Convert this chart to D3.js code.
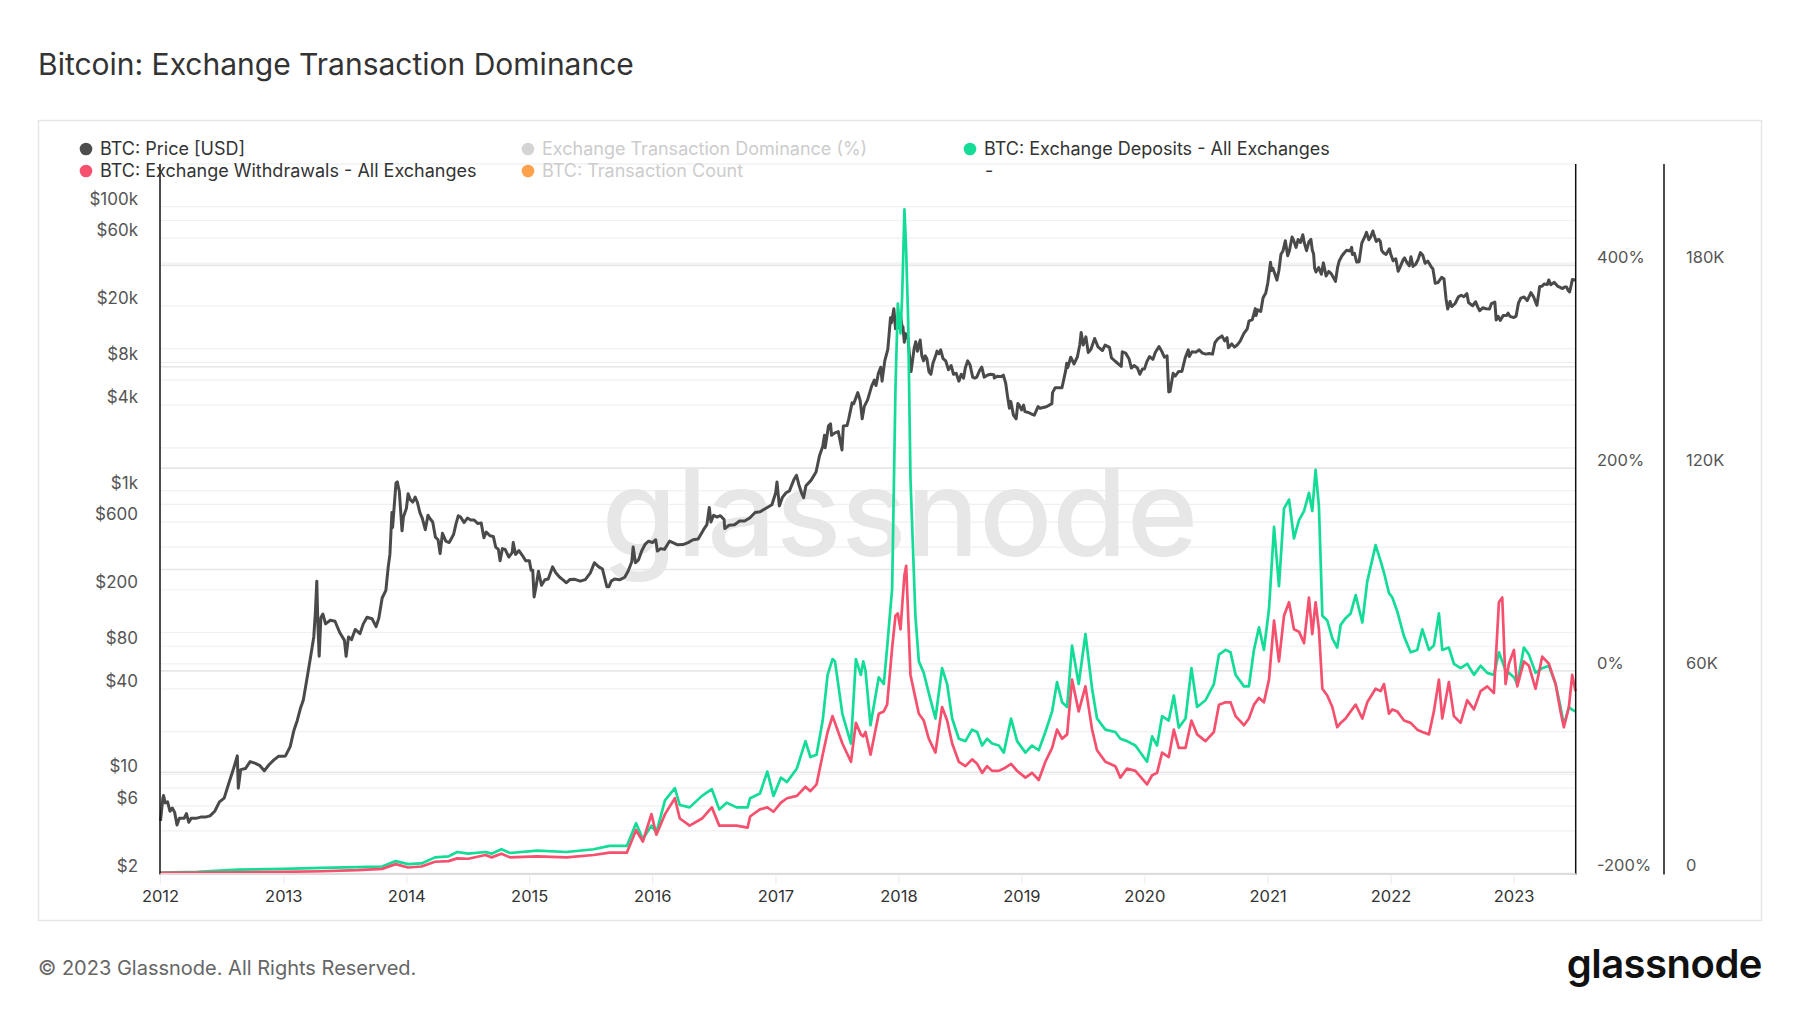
<!DOCTYPE html>
<html><head><meta charset="utf-8">
<script src="https://cdn.jsdelivr.net/npm/d3@7/dist/d3.min.js"></script>
<style>
html,body{margin:0;padding:0;background:#fff;}
svg{display:block;font-family:Inter,"Noto Sans",sans-serif;}
</style></head>
<body><svg id="c" width="1800" height="1013"></svg>
<script>
// ---------- DATA ----------
const priceDates = [
"2012-01-01","2012-01-08","2012-01-10","2012-01-15","2012-01-22","2012-01-29","2012-02-05","2012-02-12","2012-02-19","2012-02-26","2012-03-04","2012-03-11","2012-03-18","2012-03-25","2012-04-01","2012-04-15","2012-04-29","2012-05-13","2012-05-27","2012-06-10","2012-06-24","2012-07-08","2012-07-22","2012-08-05","2012-08-16","2012-08-19","2012-08-26","2012-09-09","2012-09-23","2012-10-07","2012-10-21","2012-11-04","2012-11-18","2012-12-02","2012-12-16","2012-12-30",
"2013-01-06","2013-01-20","2013-01-31","2013-02-10","2013-02-20","2013-02-28","2013-03-10","2013-03-20","2013-03-31","2013-04-05","2013-04-09","2013-04-12","2013-04-16","2013-04-21","2013-04-27","2013-05-05","2013-05-19","2013-06-02","2013-06-16","2013-06-30","2013-07-05","2013-07-12","2013-07-21","2013-08-01","2013-08-15","2013-08-25","2013-09-05","2013-09-20","2013-10-02","2013-10-10","2013-10-20","2013-10-31","2013-11-07","2013-11-12","2013-11-18","2013-11-20","2013-11-25","2013-11-30","2013-12-04","2013-12-10","2013-12-18","2013-12-22","2013-12-31",
"2014-01-05","2014-01-12","2014-01-19","2014-01-26","2014-02-02","2014-02-09","2014-02-16","2014-02-25","2014-03-05","2014-03-12","2014-03-19","2014-03-27","2014-04-04","2014-04-10","2014-04-17","2014-04-27","2014-05-07","2014-05-20","2014-05-27","2014-06-03","2014-06-10","2014-06-20","2014-06-30","2014-07-10","2014-07-20","2014-07-31","2014-08-10","2014-08-18","2014-08-25","2014-09-05","2014-09-15","2014-09-22","2014-09-30","2014-10-05","2014-10-12","2014-10-20","2014-10-31","2014-11-10","2014-11-13","2014-11-20","2014-11-30","2014-12-10","2014-12-20","2014-12-31",
"2015-01-05","2015-01-10","2015-01-14","2015-01-20","2015-01-27","2015-02-05","2015-02-15","2015-02-25","2015-03-10","2015-03-20","2015-03-31","2015-04-10","2015-04-20","2015-04-30","2015-05-15","2015-05-31","2015-06-15","2015-06-30","2015-07-12","2015-07-25","2015-08-05","2015-08-18","2015-08-24","2015-08-31","2015-09-10","2015-09-25","2015-10-10","2015-10-20","2015-10-31","2015-11-04","2015-11-11","2015-11-20","2015-11-30","2015-12-10","2015-12-20","2015-12-31",
"2016-01-10","2016-01-15","2016-01-25","2016-02-05","2016-02-20","2016-03-01","2016-03-15","2016-03-31","2016-04-15","2016-04-30","2016-05-15","2016-05-31","2016-06-10","2016-06-17","2016-06-22","2016-06-30","2016-07-10","2016-07-20","2016-07-31","2016-08-02","2016-08-15","2016-08-31","2016-09-15","2016-09-30","2016-10-15","2016-10-31","2016-11-15","2016-11-30","2016-12-10","2016-12-20","2016-12-31",
"2017-01-04","2017-01-11","2017-01-20","2017-01-31","2017-02-10","2017-02-23","2017-03-03","2017-03-10","2017-03-18","2017-03-24","2017-03-31","2017-04-15","2017-04-30","2017-05-10","2017-05-20","2017-05-25","2017-05-27","2017-06-06","2017-06-12","2017-06-15","2017-06-25","2017-07-05","2017-07-16","2017-07-20","2017-07-31","2017-08-05","2017-08-15","2017-08-20","2017-09-01","2017-09-08","2017-09-14","2017-09-20","2017-09-30","2017-10-12","2017-10-20","2017-10-25","2017-11-01","2017-11-08","2017-11-12","2017-11-20","2017-11-29","2017-12-07","2017-12-10","2017-12-17","2017-12-22","2017-12-27","2017-12-31",
"2018-01-03","2018-01-06","2018-01-10","2018-01-13","2018-01-17","2018-01-20","2018-01-28","2018-02-01","2018-02-06","2018-02-10","2018-02-15","2018-02-20","2018-02-25","2018-03-05","2018-03-10","2018-03-15","2018-03-20","2018-03-25","2018-03-31","2018-04-06","2018-04-12","2018-04-20","2018-04-24","2018-04-30","2018-05-05","2018-05-12","2018-05-20","2018-05-28","2018-06-05","2018-06-12","2018-06-20","2018-06-28","2018-07-05","2018-07-12","2018-07-17","2018-07-24","2018-07-31","2018-08-08","2018-08-14","2018-08-20","2018-08-29","2018-09-04","2018-09-11","2018-09-20","2018-09-30","2018-10-10","2018-10-11","2018-10-20","2018-10-31","2018-11-07","2018-11-14","2018-11-20","2018-11-25","2018-11-29","2018-12-07","2018-12-15","2018-12-20","2018-12-24","2018-12-31",
"2019-01-06","2019-01-10","2019-01-20","2019-01-31","2019-02-07","2019-02-18","2019-02-24","2019-03-05","2019-03-15","2019-03-31","2019-04-02","2019-04-10","2019-04-20","2019-04-30","2019-05-11","2019-05-14","2019-05-17","2019-05-26","2019-06-05","2019-06-15","2019-06-22","2019-06-26","2019-07-02","2019-07-10","2019-07-17","2019-07-25","2019-08-05","2019-08-15","2019-08-28","2019-09-05","2019-09-18","2019-09-24","2019-10-05","2019-10-23","2019-10-26","2019-11-05","2019-11-15","2019-11-22","2019-11-30","2019-12-10","2019-12-17","2019-12-25","2019-12-31",
"2020-01-07","2020-01-15","2020-01-25","2020-02-01","2020-02-12","2020-02-20","2020-02-28","2020-03-07","2020-03-12","2020-03-16","2020-03-25","2020-03-31","2020-04-10","2020-04-20","2020-04-30","2020-05-09","2020-05-12","2020-05-20","2020-05-31","2020-06-10","2020-06-20","2020-06-30","2020-07-10","2020-07-20","2020-07-27","2020-08-05","2020-08-17","2020-08-25","2020-09-01","2020-09-05","2020-09-15","2020-09-23","2020-10-01","2020-10-10","2020-10-21","2020-10-31","2020-11-05","2020-11-15","2020-11-24","2020-11-26","2020-12-01","2020-12-10","2020-12-17","2020-12-25","2020-12-31",
"2021-01-03","2021-01-08","2021-01-11","2021-01-15","2021-01-22","2021-01-27","2021-02-02","2021-02-08","2021-02-14","2021-02-21","2021-02-28","2021-03-05","2021-03-13","2021-03-18","2021-03-25","2021-03-31","2021-04-07","2021-04-14","2021-04-18","2021-04-25","2021-05-02","2021-05-08","2021-05-12","2021-05-16","2021-05-19","2021-05-23","2021-05-31","2021-06-08","2021-06-14","2021-06-22","2021-06-30","2021-07-07","2021-07-20","2021-07-26","2021-07-31","2021-08-07","2021-08-14","2021-08-22","2021-09-01","2021-09-06","2021-09-08","2021-09-14","2021-09-21","2021-09-28","2021-10-06","2021-10-15","2021-10-20","2021-10-27","2021-11-01","2021-11-08","2021-11-10","2021-11-18","2021-11-25","2021-11-30","2021-12-04","2021-12-10","2021-12-17","2021-12-27","2021-12-31",
"2022-01-07","2022-01-15","2022-01-22","2022-01-28","2022-02-06","2022-02-10","2022-02-18","2022-02-24","2022-03-01","2022-03-07","2022-03-15","2022-03-22","2022-03-29","2022-04-05","2022-04-12","2022-04-20","2022-04-30","2022-05-05","2022-05-10","2022-05-12","2022-05-20","2022-05-31","2022-06-07","2022-06-13","2022-06-18","2022-06-25","2022-06-30","2022-07-10","2022-07-20","2022-07-28","2022-08-05","2022-08-14","2022-08-19","2022-08-31","2022-09-09","2022-09-15","2022-09-21","2022-09-30","2022-10-10","2022-10-20","2022-10-26","2022-11-05","2022-11-09","2022-11-15","2022-11-21","2022-11-30","2022-12-10","2022-12-14","2022-12-20","2022-12-31",
"2023-01-07","2023-01-14","2023-01-21","2023-01-31","2023-02-09","2023-02-16","2023-02-20","2023-02-28","2023-03-09","2023-03-10","2023-03-15","2023-03-18","2023-03-25","2023-03-31","2023-04-10","2023-04-14","2023-04-20","2023-04-30","2023-05-10","2023-05-15","2023-05-25","2023-05-31","2023-06-06","2023-06-10","2023-06-15","2023-06-20","2023-06-23","2023-06-30","2023-07-02"
];
const priceValues = [
4.7,6.8,7.1,6.3,6.4,5.5,5.8,5.4,4.4,4.9,4.9,4.9,5.3,4.6,4.9,4.9,5.0,5.0,5.1,5.5,6.4,6.8,8.7,11.0,13.5,8.0,10.8,11.0,12.3,12.0,11.6,10.6,11.7,12.6,13.4,13.4,
13.5,15.7,20.4,24,29.5,33.4,46,64,93,142,230,117,68,127,135,115,122,120,100,88,68,93,89,105,98,115,128,125,110,126,175,198,290,355,700,550,790,1130,1150,985,520,650,750,
950,860,830,900,820,700,640,530,670,630,600,470,450,360,500,440,430,490,580,665,650,595,640,620,620,585,590,465,510,480,475,400,385,320,390,385,340,365,430,355,378,350,320,320,
275,275,178,212,270,215,235,238,290,262,245,235,224,236,237,230,236,263,310,290,280,210,210,230,238,235,245,270,315,400,310,325,378,420,440,430,
450,375,390,385,440,430,415,416,430,450,455,530,575,760,600,670,650,665,625,540,570,575,610,610,640,700,710,745,770,795,960,
1150,780,895,965,995,1190,1280,1100,960,890,1080,1180,1350,1750,2050,2450,2000,2860,2950,2450,2550,2600,1930,2850,2870,3200,4150,4100,4900,4300,3200,3900,4350,5450,6000,5500,6700,7400,5900,8200,9900,16500,15200,19100,13800,15800,14100,
15100,17100,14500,14200,11100,12800,11700,9100,6900,8100,10000,11200,9600,11500,8900,8200,8900,8500,6900,6600,7900,8900,9600,9200,9800,8500,8200,7100,7600,6600,6700,5900,6600,6200,7300,8200,7700,6300,6200,6300,7050,7400,6300,6500,6600,6550,6200,6400,6350,6500,5700,4500,3800,4250,3400,3200,4100,4000,3700,
4000,3600,3550,3450,3400,3900,3800,3850,3900,4100,4900,5300,5300,5300,7000,7900,7350,8700,7800,8800,10700,13000,10600,12100,9400,9900,11800,10300,9700,10600,10200,8600,8150,7500,9500,9300,8500,7300,7600,7300,6600,7200,7200,
8100,8800,8400,9400,10350,9600,8700,8900,4950,5000,6700,6400,6900,6900,8650,9800,8800,9500,9450,9800,9300,9150,9250,9150,11000,11750,12300,11350,11950,10150,10800,10250,10600,11300,12800,13800,15600,16000,19150,17100,18800,18250,22800,24700,29000,
32800,40600,35500,36800,33000,30400,35500,46200,48700,57500,45200,48800,61200,57600,51700,58800,56000,63500,56200,49000,56600,58800,49500,46400,37000,34700,37300,33400,40200,32500,35000,33800,29800,37200,41500,44600,47000,49300,48800,51800,46100,47000,40700,41000,55400,61500,66000,58500,61000,67500,64900,56900,59000,57000,49200,47200,46100,50600,46300,
41600,43000,35100,37700,42400,43600,40000,38300,44400,38000,39300,42400,47500,45500,40000,41400,37700,36500,31000,28900,29200,31800,31100,22500,19000,21500,19800,20800,23200,23800,23200,24400,21100,20050,21400,19700,18500,19400,19100,19000,20800,21300,15900,16900,15800,17150,17100,17800,16900,16550,
16950,20900,22700,23100,21800,23600,24800,23150,20400,20200,24400,27400,27500,28500,28300,30500,28200,29300,27600,27200,26500,27200,27200,25850,25100,28300,30700,30500,30600
];

// Exchange deposits / withdrawals (count per day), dates as decimal years
const flowYears = [
2012.00,2012.30,2012.63,2013.00,2013.31,2013.60,2013.80,2013.91,2014.01,2014.12,2014.23,2014.34,2014.41,2014.50,2014.64,2014.69,2014.77,2014.84,
2015.06,2015.30,2015.52,2015.65,2015.79,2015.865,2015.92,2015.99,2016.03,2016.10,2016.18,2016.22,2016.30,2016.40,2016.48,2016.54,2016.60,2016.68,2016.77,2016.79,2016.87,2016.93,2016.98,
2017.04,2017.09,2017.17,2017.24,2017.28,2017.33,2017.38,2017.42,2017.46,2017.48,2017.54,2017.61,2017.65,2017.69,2017.71,2017.728,2017.769,2017.836,2017.877,2017.904,2017.945,2017.972,2017.991,
2018.013,2018.026,2018.045,2018.059,2018.075,2018.094,2018.134,2018.162,2018.202,2018.243,2018.297,2018.351,2018.392,2018.433,2018.487,2018.541,2018.595,2018.636,2018.677,2018.717,2018.758,2018.812,2018.853,2018.912,2018.961,
2019.029,2019.083,2019.137,2019.191,2019.246,2019.286,2019.327,2019.368,2019.408,2019.462,2019.517,2019.571,2019.611,2019.679,2019.760,2019.801,2019.855,2019.923,
2020.018,2020.059,2020.099,2020.140,2020.194,2020.235,2020.275,2020.330,2020.378,2020.424,2020.492,2020.560,2020.601,2020.655,2020.695,2020.736,2020.804,2020.844,2020.885,2020.926,2020.966,
2021.007,2021.048,2021.088,2021.129,2021.170,2021.210,2021.251,2021.292,2021.332,2021.359,2021.386,2021.413,2021.441,2021.481,2021.522,2021.562,2021.590,2021.630,2021.671,2021.712,2021.766,2021.806,2021.874,2021.915,2021.942,2021.983,
2022.010,2022.050,2022.105,2022.159,2022.213,2022.254,2022.308,2022.348,2022.389,2022.416,2022.470,2022.511,2022.565,2022.619,2022.674,2022.728,2022.782,2022.836,2022.877,2022.904,2022.931,2022.958,2022.999,
2023.026,2023.080,2023.121,2023.175,2023.229,2023.283,2023.338,2023.378,2023.405,2023.446,2023.473,2023.500
];
const deposits = [
300,500,1200,1400,1700,1900,2100,3700,2800,3000,4800,5100,6400,5900,6400,5900,7200,6100,
6800,6400,7200,8200,8200,14900,10200,14200,12200,21700,25300,20300,19600,23000,25000,19000,21000,19600,19600,22300,23700,30200,23000,
28400,27100,31100,39200,34500,35200,45300,58800,63500,62800,47300,38500,63500,58800,62800,60100,43900,58100,56100,66900,84400,143800,168700,
159900,170700,196600,184200,164000,116800,76300,62800,59400,53400,45900,60800,56100,45900,39900,39200,42600,41900,37900,39900,38500,37900,35800,45900,39200,
35800,37900,36500,41900,48000,56700,50700,49300,67500,56100,70900,54700,45900,42600,41900,39900,39200,37900,
33100,40600,37900,46600,45300,52700,43200,45900,60800,49300,51300,56100,64800,66200,65500,58800,55400,55400,66200,72900,66200,
78300,102600,85100,108000,110700,99200,104600,107300,112700,107300,119500,108700,76300,74900,69600,66900,73600,75600,77000,82400,74300,86400,97200,92500,89100,83000,
81700,77600,70200,65500,66200,72300,66200,67500,77000,66200,66900,62100,60800,62100,58800,61500,59400,58800,65500,62800,60100,59400,58100,
56100,66900,64800,59400,60800,61500,56100,49300,43900,49300,48500,48000
];
const withdrawals = [
200,300,400,500,700,1000,1400,2800,1800,2100,3500,3700,4500,4400,5500,4800,5900,4800,
5100,4800,5500,6200,6200,12900,9500,17600,11500,17600,22300,16300,14200,16300,19600,14200,14200,14200,13600,16900,19000,19600,18300,
21000,22300,23000,25700,24400,26400,35200,41900,46600,44600,38500,33100,44600,41200,40600,41900,35200,47300,48000,50000,66900,76300,77000,
72300,79000,88400,91100,76300,58800,52000,47300,45300,39900,35800,49300,45300,38500,33100,31800,33800,32500,29800,31800,30400,30400,31100,32500,30400,
28400,29800,27700,33100,37200,42600,39900,41200,57400,48000,55400,42600,36500,33100,31800,28400,31100,30400,
26400,29100,29800,35800,34500,42600,37200,37200,45300,41200,39200,41900,50000,50700,50700,46600,43900,45900,50000,52000,50700,
57400,74900,62800,76300,80300,72300,71600,68200,81700,70900,80300,72300,54700,52700,49300,43300,44600,45900,48000,50000,45900,50700,54700,54000,56100,47300,
48600,48000,45300,44600,42600,41900,41200,48000,57400,45900,56700,46600,44600,51300,48600,54000,55400,53400,80300,81700,56100,62100,66200,
55400,62800,61500,54700,64200,62100,56100,48000,43300,49300,58800,54000
];

// Axis ticks / labels
const years = [2012,2013,2014,2015,2016,2017,2018,2019,2020,2021,2022,2023];
const priceGrid = [2,4,6,8,10,20,40,60,80,100,200,400,600,800,1000,2000,4000,6000,8000,10000,20000,40000,60000,80000,100000];
const priceLabels = [2,6,10,40,80,200,600,1000,4000,8000,20000,60000,100000];
const pctLabels = [-200,0,200,400];
const countGrid = [0,30000,60000,90000,120000,150000,180000];
const countLabels = [0,60000,120000,180000];

const legendItems = [
 {name:"BTC: Price [USD]", color:"#4d4d4d", active:true, col:0,row:0},
 {name:"Exchange Transaction Dominance (%)", color:"#d4d4d4", active:false, col:1,row:0},
 {name:"BTC: Exchange Deposits - All Exchanges", color:"#12dc95", active:true, col:2,row:0},
 {name:"BTC: Exchange Withdrawals - All Exchanges", color:"#f5506e", active:true, col:0,row:1},
 {name:"BTC: Transaction Count", color:"#ffa04c", active:false, col:1,row:1}
];

// ---------- LAYOUT ----------
const L = 160.5, R = 1575.7, R2 = 1664, T = 164, B = 873.6;
const svg = d3.select("#c");
const parse = d3.utcParse("%Y-%m-%d");
function fromDecYear(t){const y=Math.floor(t);const s=Date.UTC(y,0,1),e=Date.UTC(y+1,0,1);return new Date(s+(t-y)*(e-s));}

const x = d3.scaleUtc().domain([parse("2012-01-01"), parse("2023-07-03")]).range([L, R]);
const yP = d3.scaleLog().domain([2,200000]).range([B,T]);
const yC = d3.scaleLinear().domain([0,210000]).range([B,T]);
const yPct = d3.scaleLinear().domain([-200,500]).range([B,T]);

// Title
svg.append("text").attr("x",38).attr("y",75).attr("font-size",30).attr("font-weight",400)
  .attr("fill","#333").text("Bitcoin: Exchange Transaction Dominance");

// Box
svg.append("rect").attr("x",38.5).attr("y",120.5).attr("width",1723).attr("height",800)
  .attr("fill","none").attr("stroke","#e6e6e6").attr("stroke-width",1.5);

// Grid
const g = svg.append("g");
g.selectAll(".pg").data(priceGrid).join("line")
  .attr("x1",L).attr("x2",R).attr("y1",d=>yP(d)).attr("y2",d=>yP(d))
  .attr("stroke","#f0f0f0").attr("stroke-width",1.2);
g.selectAll(".cg").data(countGrid).join("line")
  .attr("x1",L).attr("x2",R).attr("y1",d=>yC(d)).attr("y2",d=>yC(d))
  .attr("stroke","#e6e6e6").attr("stroke-width",1.6);
g.append("line").attr("x1",L).attr("x2",R).attr("y1",T).attr("y2",T).attr("stroke","#ebebeb").attr("stroke-width",1.2);

// Watermark
svg.append("text").attr("x",900).attr("y",556).attr("text-anchor","middle")
  .attr("font-size",121).attr("font-weight",500).attr("fill","#e7e7e7").text("glassnode");

// Lines
const priceData = priceDates.map((d,i)=>({d:parse(d), v:priceValues[i]}));
const depData = flowYears.map((t,i)=>({d:fromDecYear(t), v:deposits[i]}));
const wdData = flowYears.map((t,i)=>({d:fromDecYear(t), v:withdrawals[i]}));

svg.append("path").datum(priceData)
  .attr("d", d3.line().x(d=>x(d.d)).y(d=>yP(d.v)))
  .attr("fill","none").attr("stroke","#4a4a4a").attr("stroke-width",3).attr("stroke-linejoin","round");
svg.append("path").datum(depData)
  .attr("d", d3.line().x(d=>x(d.d)).y(d=>yC(d.v)))
  .attr("fill","none").attr("stroke","#12dc95").attr("stroke-width",2.7).attr("stroke-linejoin","round");
svg.append("path").datum(wdData)
  .attr("d", d3.line().x(d=>x(d.d)).y(d=>yC(d.v)))
  .attr("fill","none").attr("stroke","#f5506e").attr("stroke-width",2.7).attr("stroke-linejoin","round");

// Axis lines
svg.append("line").attr("x1",L-0.5).attr("x2",L-0.5).attr("y1",T).attr("y2",B+1).attr("stroke","#111").attr("stroke-width",1.5);
svg.append("line").attr("x1",R).attr("x2",R).attr("y1",T).attr("y2",B+1).attr("stroke","#111").attr("stroke-width",1.5);
svg.append("line").attr("x1",R2).attr("x2",R2).attr("y1",T).attr("y2",B+1).attr("stroke","#111").attr("stroke-width",1.5);
svg.append("line").attr("x1",L).attr("x2",R).attr("y1",B+0.5).attr("y2",B+0.5).attr("stroke","#dcdcdc").attr("stroke-width",2);

// Left price labels
const fmtP = v => v>=1000 ? "$"+(v/1000)+"k" : "$"+v;
svg.selectAll(".pl").data(priceLabels).join("text")
  .attr("x",138).attr("y",d=>yP(d)-8).attr("dy","0.35em").attr("text-anchor","end")
  .attr("font-size",17).attr("fill","#555").text(fmtP);

// Right labels
svg.selectAll(".pct").data(pctLabels).join("text")
  .attr("x",1597).attr("y",d=>yPct(d)-8).attr("dy","0.35em")
  .attr("font-size",16.5).attr("fill","#555").text(d=>d+"%");
svg.selectAll(".cnt").data(countLabels).join("text")
  .attr("x",1686).attr("y",d=>yC(d)-8).attr("dy","0.35em")
  .attr("font-size",16.5).attr("fill","#555").text(d=> d===0 ? "0" : (d/1000)+"K");

// X axis
const yearDates = years.map(y=>parse(y+"-01-01"));
svg.selectAll(".xt").data(yearDates).join("line")
  .attr("x1",d=>x(d)).attr("x2",d=>x(d)).attr("y1",B+1).attr("y2",B+11)
  .attr("stroke","#eeeeee").attr("stroke-width",1.2);
svg.selectAll(".xl").data(yearDates).join("text")
  .attr("x",d=>x(d)).attr("y",896).attr("dy","0.35em").attr("text-anchor","middle")
  .attr("font-size",16.5).attr("fill","#333").text(d=>d3.utcFormat("%Y")(d));

// Legend
const colX = [86, 528, 970], rowY = [149, 171];
const lg = svg.append("g");
legendItems.forEach(it=>{
  const cx = colX[it.col], cy = rowY[it.row];
  lg.append("circle").attr("cx",cx).attr("cy",cy).attr("r",6.3).attr("fill",it.color);
  lg.append("text").attr("x",cx+14).attr("y",cy).attr("dy","0.35em").attr("font-size",18)
    .attr("fill", it.active ? "#333" : "#cccccc").text(it.name);
});
lg.append("text").attr("x",985).attr("y",171).attr("dy","0.35em").attr("font-size",18).attr("fill","#333").text("-");

// Footer
svg.append("text").attr("x",38).attr("y",968).attr("dy","0.35em").attr("font-size",20)
  .attr("fill","#666").text("© 2023 Glassnode. All Rights Reserved.");
svg.append("text").attr("x",1762).attr("y",978).attr("text-anchor","end").attr("font-size",40)
  .attr("font-weight",600).attr("fill","#111").attr("letter-spacing","-0.5").text("glassnode");
</script></body></html>
